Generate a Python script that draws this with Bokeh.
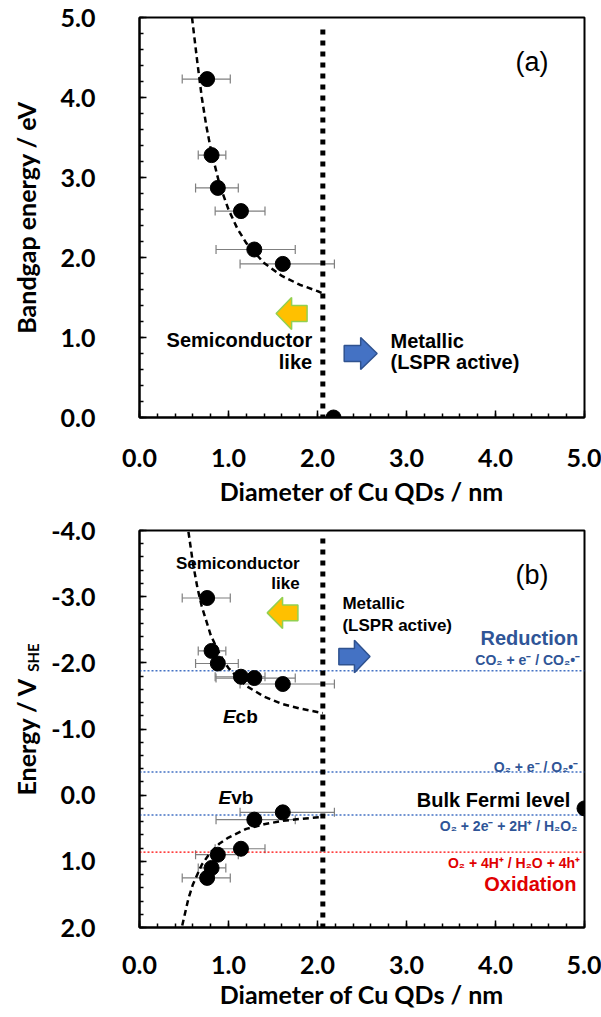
import math
from bokeh.plotting import figure
from bokeh.models import (Range1d, Label, Whisker, ColumnDataSource, TeeHead,
                          NumeralTickFormatter, SingleIntervalTicker)
from bokeh.layouts import column, row
from bokeh.embed import file_html
from bokeh.resources import INLINE

# ---------------- data ----------------
diam = [0.76, 0.81, 0.88, 1.14, 1.29, 1.61]
diam_lo = [0.48, 0.66, 0.63, 0.85, 0.86, 1.13]
diam_hi = [1.02, 0.97, 1.11, 1.41, 1.75, 2.19]
bandgap = [4.23, 3.28, 2.87, 2.58, 2.10, 1.92]
ecb = [-2.98, -2.18, -1.99, -1.79, -1.77, -1.68]
evb = [1.25, 1.10, 0.90, 0.81, 0.37, 0.26]

metal_d = [2.18]
metal_gap = [0.0]
fermi_d = [5.0]
fermi_e = [0.20]

boundary_d = 2.06

fit_a_d = [0.59, 0.65, 0.70, 0.75, 0.80, 0.90, 1.00, 1.10, 1.20, 1.40, 1.60, 1.80, 2.00, 2.06]
fit_a_e = [5.00, 4.44, 4.00, 3.65, 3.36, 2.91, 2.60, 2.36, 2.18, 1.93, 1.77, 1.66, 1.58, 1.55]

fit_cb_d = [0.55, 0.60, 0.65, 0.70, 0.80, 0.90, 1.00, 1.20, 1.40, 1.60, 1.80, 2.06]
fit_cb_e = [-3.98, -3.51, -3.14, -2.85, -2.42, -2.13, -1.92, -1.65, -1.49, -1.38, -1.31, -1.24]

fit_vb_d = [0.48, 0.55, 0.60, 0.70, 0.80, 0.90, 1.00, 1.20, 1.40, 1.60, 1.80, 2.06]
fit_vb_e = [1.97, 1.56, 1.35, 1.05, 0.86, 0.73, 0.64, 0.51, 0.44, 0.39, 0.36, 0.33]

redox_e = [-1.88, -0.35, 0.30, 0.86]
redox_labels = ["CO\u2082 + e\u207b / CO\u2082\u2022\u207b", "O\u2082 + e\u207b / O\u2082\u2022\u207b",
                "O\u2082 + 2e\u207b + 2H\u207a / H\u2082O\u2082", "O\u2082 + 4H\u207a / H\u2082O + 4h\u207a"]
redox_colors = ["#4472C4", "#4472C4", "#4472C4", "#FF0000"]
redox_text_colors = ["#2F5597", "#2F5597", "#2F5597", "#E00000"]

TICK_FONT = "Lato"
ANNOT_FONT = "Liberation Sans"


def style(p, lab_standoff, title_standoff):
    p.outline_line_color = "black"
    p.outline_line_width = 2
    p.grid.visible = False
    for ax in (p.xaxis[0], p.yaxis[0]):
        ax.axis_line_width = 2
        ax.major_tick_in = 7
        ax.major_tick_out = 0
        ax.minor_tick_in = 4
        ax.minor_tick_out = 0
        ax.major_tick_line_width = 1.5
        ax.minor_tick_line_width = 1.5
        ax.major_label_text_font = TICK_FONT
        ax.major_label_text_font_style = "bold"
        ax.major_label_text_font_size = "25px"
        ax.major_label_text_color = "black"
        ax.axis_label_text_font = TICK_FONT
        ax.axis_label_text_font_style = "bold"
        ax.axis_label_text_font_size = "25px"
        ax.axis_label_text_color = "black"
        ax.formatter = NumeralTickFormatter(format="0.0")
        ax.ticker = SingleIntervalTicker(interval=1, num_minor_ticks=5)
    p.xaxis[0].major_label_standoff = lab_standoff
    p.xaxis[0].axis_label = "Diameter of Cu QDs / nm"
    p.xaxis[0].axis_label_standoff = title_standoff
    p.yaxis[0].major_label_standoff = 44


def arrow(p, x0, x1, y0, y1, direction, fill, line):
    w = x1 - x0
    h = y1 - y0
    yc = (y0 + y1) / 2
    hb = 0.25 * h
    if direction == "left":
        xb = x0 + 0.5 * w
        xs = [x0, xb, xb, x1, x1, xb, xb]
    else:
        xb = x1 - 0.5 * w
        xs = [x1, xb, xb, x0, x0, xb, xb]
    ys = [yc, y1, yc + hb, yc + hb, yc - hb, yc - hb, y0]
    p.patch(xs, ys, fill_color=fill, line_color=line, line_width=1.5)


def txt(p, x, y, text, size, align="left", color="black", font=ANNOT_FONT, style_="bold", angle=0.0):
    p.add_layout(Label(x=x, y=y, text=text, text_font=font, text_font_size=size, text_font_style=style_,
                       text_color=color, text_align=align, text_baseline="middle", angle=angle))


def points(p, yvals):
    src = ColumnDataSource(dict(y=yvals, lo=diam_lo, hi=diam_hi))
    p.add_layout(Whisker(source=src, base="y", lower="lo", upper="hi", dimension="width",
                         line_color="#7F7F7F", line_width=1.2,
                         upper_head=TeeHead(size=9, line_color="#7F7F7F", line_width=1.2),
                         lower_head=TeeHead(size=9, line_color="#7F7F7F", line_width=1.2)))
    p.scatter(diam, yvals, size=15, color="black")


# ---------------- panel (a) ----------------
pa = figure(width=601, height=514, x_range=Range1d(0, 5), y_range=Range1d(0, 5),
            output_backend="svg", toolbar_location=None,
            min_border_left=139, min_border_right=17, min_border_top=17, min_border_bottom=97)
style(pa, 31, 6)
pa.yaxis[0].axis_label = "Bandgap energy / eV"
pa.yaxis[0].axis_label_standoff = 17

pa.line([boundary_d, boundary_d], [4.85, 0], line_color="black", line_width=5, line_dash="5 6")
pa.line(fit_a_d, fit_a_e, line_color="black", line_width=2.5, line_dash="6 4")
points(pa, bandgap)
pa.scatter(metal_d, metal_gap, size=15, color="black")

arrow(pa, 1.535, 1.883, 1.10, 1.50, "left", "#FFC000", "#92D050")
arrow(pa, 2.30, 2.67, 0.60, 1.00, "right", "#4472C4", "#2F528F")
txt(pa, 1.94, 0.975, "Semiconductor", "20px", align="right")
txt(pa, 1.94, 0.69, "like", "20px", align="right")
txt(pa, 2.82, 0.96, "Metallic", "20px")
txt(pa, 2.82, 0.69, "(LSPR active)", "20px")
txt(pa, 4.41, 4.44, "(a)", "27px", align="center", style_="normal")

# ---------------- panel (b) ----------------
pb = figure(width=556, height=503, x_range=Range1d(0, 5), y_range=Range1d(2, -4),
            output_backend="svg", toolbar_location=None,
            min_border_left=94, min_border_right=17, min_border_top=16, min_border_bottom=90)
style(pb, 28, 2)

for e, c in zip(redox_e, redox_colors):
    pb.line([0, 5], [e, e], line_color=c, line_width=1.3, line_dash="2 2")

pb.line([boundary_d, boundary_d], [-3.88, 2], line_color="black", line_width=5, line_dash="5 6")
pb.line(fit_cb_d, fit_cb_e, line_color="black", line_width=2.5, line_dash="6 4")
pb.line(fit_vb_d, fit_vb_e, line_color="black", line_width=2.5, line_dash="6 4")
points(pb, ecb)
points(pb, evb)
pb.scatter(fermi_d, fermi_e, size=15, color="black")

arrow(pb, 1.435, 1.78, -2.52, -2.99, "left", "#FFC000", "#92D050")
arrow(pb, 2.24, 2.59, -1.85, -2.34, "right", "#4472C4", "#2F528F")
txt(pb, 1.80, -3.50, "Semiconductor", "17px", align="right")
txt(pb, 1.80, -3.20, "like", "17px", align="right")
txt(pb, 2.28, -2.90, "Metallic", "17px")
txt(pb, 2.28, -2.56, "(LSPR active)", "17px")
txt(pb, 4.41, -3.32, "(b)", "27px", align="center", style_="normal")
txt(pb, 4.93, -2.38, "Reduction", "20px", align="right", color="#2F5597")
txt(pb, 4.91, 1.35, "Oxidation", "20px", align="right", color="#E00000")
txt(pb, 4.84, 0.08, "Bulk Fermi level", "20px", align="right")
label_y = [-2.04, -0.43, 0.47, 1.03]
label_x = [4.95, 4.93, 4.92, 4.95]
for lx, ly, t, c in zip(label_x, label_y, redox_labels, redox_text_colors):
    txt(pb, lx, ly, t, "14px", align="right", color=c)
txt(pb, 1.08, -1.19, "E", "19px", align="right", style_="bold italic")
txt(pb, 1.08, -1.19, "cb", "19px", align="left")
txt(pb, 1.03, 0.03, "E", "19px", align="right", style_="bold italic")
txt(pb, 1.03, 0.03, "vb", "19px", align="left")

# narrow strip carrying the panel (b) y-axis title with its subscript
strip = figure(width=45, height=503, x_range=Range1d(0, 45), y_range=Range1d(503, 0),
               output_backend="svg", toolbar_location=None,
               min_border_left=0, min_border_right=0, min_border_top=0, min_border_bottom=0)
strip.axis.visible = False
strip.grid.visible = False
strip.outline_line_color = None
txt(strip, 25, 257, "Energy  / V", "25px", align="center", font=TICK_FONT, angle=math.pi / 2)
txt(strip, 32, 161, "SHE", "15px", align="center", font=TICK_FONT, angle=math.pi / 2)

layout = column(pa, row(strip, pb, spacing=0), spacing=0)
open("out.html", "w").write(file_html(layout, INLINE))
